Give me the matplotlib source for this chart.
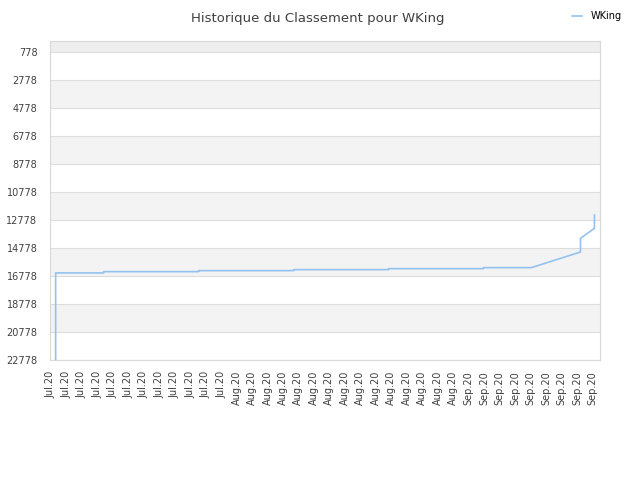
import matplotlib
matplotlib.use("Agg")
import matplotlib.pyplot as plt

# x positions are in tick units (one tick per label)
x_pos = [0.32, 0.32, 3.42, 3.42, 9.55, 9.55, 15.69, 15.69, 21.82, 21.82,
         27.95, 27.95, 31.05, 34.22, 34.22, 35.12, 35.12]
rank = [23500, 16564, 16564, 16472, 16472, 16401, 16401, 16330, 16330, 16259,
        16259, 16187, 16187, 15069, 14094, 13382, 12435]

tick_labels = ["Jul.20"] * 12 + ["Aug.20"] * 15 + ["Sep.20"] * 9
y_ticks = [778 + 2000 * k for k in range(12)]

LINE = "#94c2f0"
TEXT = "#404040"
GRID = "#dddddd"
BAND = "#f3f3f3"

plt.rcParams["font.family"] = ["DejaVu Sans"]

fig = plt.figure(figsize=(6.4, 4.8), dpi=100)
ax = fig.add_axes([0.078, 0.25, 0.86, 0.665])

y_top, y_bottom = 0, 22778
ax.axhspan(y_top, y_ticks[0], color="#eeeeee", zorder=0, lw=0)
for lo in y_ticks[1:-1:2]:
    ax.axhspan(lo, lo + 2000, color=BAND, zorder=0, lw=0)
for y in y_ticks:
    ax.axhline(y, color=GRID, lw=0.8, zorder=1)

ax.plot(x_pos, rank, color=LINE, lw=1.2, zorder=3, label="WKing")

ax.set_ylim(y_bottom, y_top)
ax.set_xlim(-0.05, 35.5)
ax.set_yticks(y_ticks)
ax.set_yticklabels([str(v) for v in y_ticks], fontsize=7, color=TEXT)
ax.set_xticks(range(len(tick_labels)))
ax.set_xticklabels(tick_labels, rotation=90, fontsize=7, color=TEXT)
ax.tick_params(axis="y", length=0, pad=9)
ax.tick_params(axis="x", length=0, pad=8)

for s in ax.spines.values():
    s.set_color("#d8d8d8")
    s.set_linewidth(0.8)

fig.text(0.497, 0.975, "Historique du Classement pour WKing", ha="center", va="top",
         fontsize=9.5, color=TEXT)
fig.legend(loc="upper right", bbox_to_anchor=(0.985, 0.995), frameon=False,
           fontsize=7, handlelength=1.0, handletextpad=0.9)

fig.savefig("out.png", dpi=100)
